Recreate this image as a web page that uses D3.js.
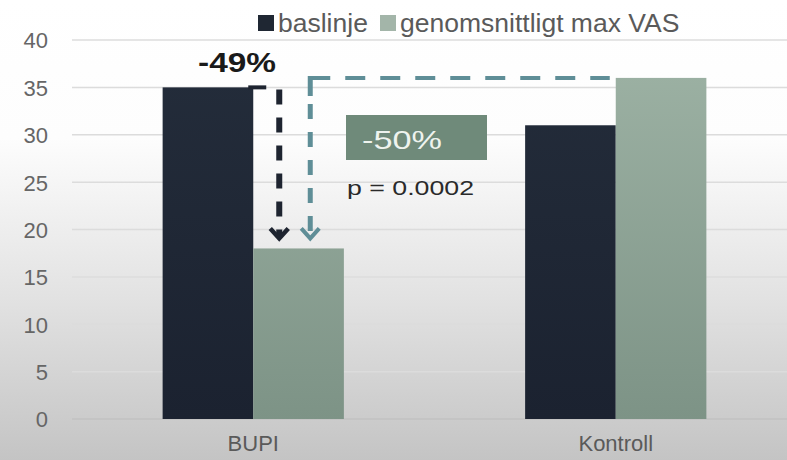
<!DOCTYPE html>
<html><head><meta charset="utf-8">
<script src="https://cdn.jsdelivr.net/npm/d3@7/dist/d3.min.js"></script>
<style>html,body{margin:0;padding:0;background:#fff;}svg{display:block;}</style>
</head><body>
<script>
const categories = ["BUPI", "Kontroll"];
const seriesNames = ["baslinje", "genomsnittligt max VAS"];
const baslinje = [35, 31];
const maxVAS = [18, 36];
const yTicks = [0, 5, 10, 15, 20, 25, 30, 35, 40];
const changeBaseline = "-49%";
const changeVAS = "-50%";
const pText = "p = 0.0002";

const W = 787, H = 460;
const svg = d3.select("body").append("svg").attr("width", W).attr("height", H);
const defs = svg.append("defs");
const bg = defs.append("linearGradient").attr("id","bg").attr("x1",0).attr("y1",0).attr("x2",0).attr("y2",1);
bg.append("stop").attr("offset","0").attr("stop-color","#ffffff");
bg.append("stop").attr("offset","0.3").attr("stop-color","#fdfdfd");
bg.append("stop").attr("offset","0.65").attr("stop-color","#e2e2e2");
bg.append("stop").attr("offset","1").attr("stop-color","#c4c4c4");
const gg = defs.append("linearGradient").attr("id","gbar").attr("gradientUnits","userSpaceOnUse")
  .attr("x1",0).attr("y1",40).attr("x2",0).attr("y2",419);
gg.append("stop").attr("offset","0").attr("stop-color","#9eb3a5");
gg.append("stop").attr("offset","1").attr("stop-color","#7d9386");
const dg = defs.append("linearGradient").attr("id","dbar").attr("gradientUnits","userSpaceOnUse")
  .attr("x1",0).attr("y1",40).attr("x2",0).attr("y2",419);
dg.append("stop").attr("offset","0").attr("stop-color","#242d3b");
dg.append("stop").attr("offset","1").attr("stop-color","#1b2230");

svg.append("rect").attr("width",W).attr("height",H).attr("fill","url(#bg)");

const x0 = d3.scaleBand().domain(categories).range([72, 797]).paddingInner(0.5).paddingOuter(0.25);
const x1 = d3.scaleBand().domain(seriesNames).range([0, x0.bandwidth()]);
const y = d3.scaleLinear().domain([0, 40]).range([419, 40]);

// gridlines
svg.append("g").selectAll("line").data(yTicks).join("line")
  .attr("x1", 72).attr("x2", W).attr("y1", d => y(d)).attr("y2", d => y(d))
  .attr("stroke", d => d === 0 ? "#c2c2c2" : "#dcdcdc").attr("stroke-width", 1.5);

// y axis labels
const yAxis = d3.axisLeft(y).tickValues(yTicks).tickSize(0).tickPadding(0);
const ya = svg.append("g").attr("transform","translate(48,0)").call(yAxis);
ya.select(".domain").remove();
ya.selectAll("text").attr("font-family","Liberation Sans, Arial, sans-serif")
  .attr("font-size", 22).attr("fill","#666").attr("dy","0.36em");

// bars
const data = categories.map((c, i) => ({cat: c, vals: [baslinje[i], maxVAS[i]]}));
const fills = ["url(#dbar)", "url(#gbar)"];
const groups = svg.append("g").selectAll("g").data(data).join("g")
  .attr("transform", d => `translate(${x0(d.cat)},0)`);
groups.selectAll("rect").data(d => d.vals.map((v, j) => ({s: seriesNames[j], v, j}))).join("rect")
  .attr("x", d => x1(d.s)).attr("width", x1.bandwidth())
  .attr("y", d => y(d.v)).attr("height", d => y(0) - y(d.v))
  .attr("fill", d => fills[d.j]);

// x axis labels
const xAxis = d3.axisBottom(x0).tickSize(0).tickPadding(0);
const xa = svg.append("g").attr("transform","translate(0,434)").call(xAxis);
xa.select(".domain").remove();
xa.selectAll("text").attr("font-family","Liberation Sans, Arial, sans-serif")
  .attr("font-size", 22).attr("fill","#5a5a5a").attr("dy","0.75em");

// legend
const legColors = ["#1f2733", "#a3b5a9"];
const legX = [258, 380];
const leg = svg.append("g");
seriesNames.forEach((s, i) => {
  leg.append("rect").attr("x", legX[i]).attr("y", 15).attr("width", 16).attr("height", 16).attr("fill", legColors[i]);
  leg.append("text").attr("x", legX[i] + 20).attr("y", 32).text(s)
    .attr("font-family","Liberation Sans, Arial, sans-serif").attr("font-size", 26.5).attr("fill","#5a5a5a");
});

// annotations
const bupiDarkRight = x0("BUPI") + x1.bandwidth();
const darkX = bupiDarkRight + 26;
const tealX = x0("BUPI") + x1("genomsnittligt max VAS") + 57;
const kontGreenLeft = x0("Kontroll") + x1("genomsnittligt max VAS");
const ann = svg.append("g");
// dark path
ann.append("path")
  .attr("d", `M${bupiDarkRight - 5},${y(baslinje[0])} H${darkX}`)
  .attr("stroke", "#1e2430").attr("stroke-width", 4).attr("fill","none")
  .attr("stroke-dasharray","18,13");
ann.append("path")
  .attr("d", `M${darkX},${y(baslinje[0]) + 2} V${y(maxVAS[0]) - 12}`)
  .attr("stroke", "#1e2430").attr("stroke-width", 6).attr("fill","none")
  .attr("stroke-dasharray","15,13");
ann.append("path")
  .attr("d", `M${darkX - 9},${y(maxVAS[0]) - 20} L${darkX},${y(maxVAS[0]) - 10} L${darkX + 9},${y(maxVAS[0]) - 20}`)
  .attr("stroke", "#1e2430").attr("stroke-width", 4.5).attr("fill","none");
// teal path
ann.append("path")
  .attr("d", `M${tealX},${y(maxVAS[1])} H${kontGreenLeft - 6}`)
  .attr("stroke", "#5f8e97").attr("stroke-width", 4).attr("fill","none")
  .attr("stroke-dasharray","20,15");
ann.append("path")
  .attr("d", `M${tealX},${y(maxVAS[1]) - 2} V${y(maxVAS[0]) - 12}`)
  .attr("stroke", "#5f8e97").attr("stroke-width", 5).attr("fill","none")
  .attr("stroke-dasharray","20,8,15,13,15,13,15,13,15,13,15,13");
ann.append("path")
  .attr("d", `M${tealX - 9},${y(maxVAS[0]) - 20} L${tealX},${y(maxVAS[0]) - 10} L${tealX + 9},${y(maxVAS[0]) - 20}`)
  .attr("stroke", "#5f8e97").attr("stroke-width", 4).attr("fill","none");

ann.append("text").attr("x", 237).attr("y", 72).attr("text-anchor","middle").text(changeBaseline)
  .attr("font-family","Liberation Sans, Arial, sans-serif").attr("font-weight","bold")
  .attr("font-size", 27).attr("fill","#1a1a1a").attr("textLength", 78).attr("lengthAdjust","spacingAndGlyphs");

ann.append("rect").attr("x", 346).attr("y", 115).attr("width", 141).attr("height", 45).attr("fill", "#6f8a7a");
ann.append("text").attr("x", 362).attr("y", 149).text(changeVAS)
  .attr("font-family","Liberation Sans, Arial, sans-serif").attr("font-size", 25).attr("fill","#eef3ee")
  .attr("textLength", 80).attr("lengthAdjust","spacingAndGlyphs");
ann.append("text").attr("x", 347).attr("y", 195).text(pText)
  .attr("font-family","Liberation Sans, Arial, sans-serif").attr("font-size", 21).attr("fill","#2a2a2a")
  .attr("textLength", 127).attr("lengthAdjust","spacingAndGlyphs");
</script>
</body></html>
